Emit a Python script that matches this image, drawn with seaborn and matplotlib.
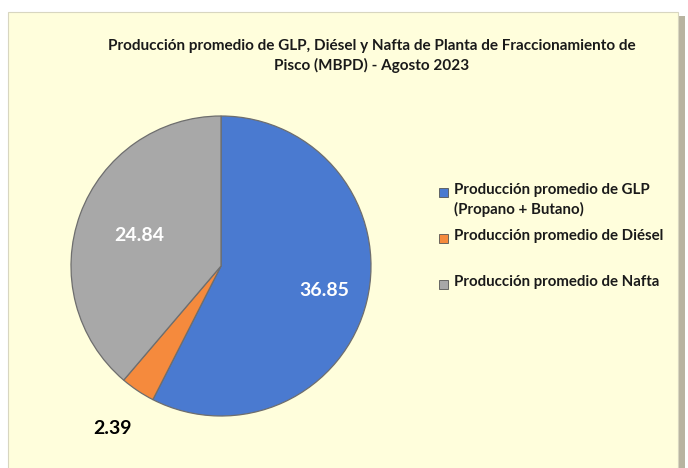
import numpy as np
import matplotlib
matplotlib.use("Agg")
import matplotlib.pyplot as plt
from matplotlib.patches import Rectangle
import seaborn as sns

categories = ["Producción promedio de GLP\n(Propano + Butano)",
              "Producción promedio de Diésel",
              "Producción promedio de Nafta"]
values = [36.85, 2.39, 24.84]
value_labels = ["36.85", "2.39", "24.84"]
colors = ["#4A7AD0", "#F58A3D", "#A8A8A8"]
title = "Producción promedio de GLP, Diésel y Nafta de Planta de Fraccionamiento de\nPisco (MBPD) - Agosto 2023"

sns.set_theme(style="white")
plt.rcParams['font.family'] = ['Lato', 'DejaVu Sans']

W, H = 688, 468
fig = plt.figure(figsize=(W / 100, H / 100), dpi=100)
fig.patch.set_facecolor("white")

# background panel with shadow
fig.patches.append(Rectangle((12 / W, -0.05), 673 / W, 1 - 12 / H + 0.05 - 4 / H,
                             transform=fig.transFigure, facecolor="#B8B4A0",
                             edgecolor="none", zorder=-3))
fig.patches.append(Rectangle((8 / W, -0.05), 670 / W, 1 - 12 / H + 0.05,
                             transform=fig.transFigure, facecolor="#FFFEDC",
                             edgecolor="#D8D6C0", linewidth=0.8, zorder=-2))

fig.text(372 / W, 1 - 56 / H, title, ha="center", va="center", fontsize=11,
         fontweight="bold", color="#1a1a1a", linespacing=1.35, zorder=5)

cx, cy, r = 221, 266, 150
ax = fig.add_axes([(cx - r) / W, (H - cy - r) / H, 2 * r / W, 2 * r / H])
ax.set_zorder(2)
ax.patch.set_alpha(0)
wedges, _ = ax.pie(values, colors=colors, startangle=90, counterclock=False,
                   radius=1.0,
                   wedgeprops=dict(edgecolor="#6E6E6E", linewidth=0.9))
ax.set_xlim(-1, 1)
ax.set_ylim(-1, 1)
ax.set_aspect("auto")
ax.axis("off")

dists = [0.71, 1.30, 0.58]
tcolors = ["white", "black", "white"]
for w, lab, d, tc in zip(wedges, value_labels, dists, tcolors):
    ang = np.deg2rad((w.theta1 + w.theta2) / 2)
    ax.text(d * np.cos(ang), d * np.sin(ang), lab, ha="center", va="center",
            fontsize=14, fontweight="bold", color=tc, clip_on=False)

# legend (Excel-like placement)
leg_y = [192, 238, 284]
for c, lab, y in zip(colors, categories, leg_y):
    fig.patches.append(Rectangle((439 / W, 1 - (y + 4.5) / H), 9 / W, 9 / H,
                                 transform=fig.transFigure, facecolor=c,
                                 edgecolor="#555555", linewidth=0.6, zorder=3))
    fig.text(454 / W, 1 - (y - 9) / H, lab, ha="left", va="top",
             fontsize=10.8, fontweight="bold", color="#1a1a1a",
             linespacing=1.45, zorder=5)

fig.savefig("out.png", dpi=100, facecolor=fig.get_facecolor())
